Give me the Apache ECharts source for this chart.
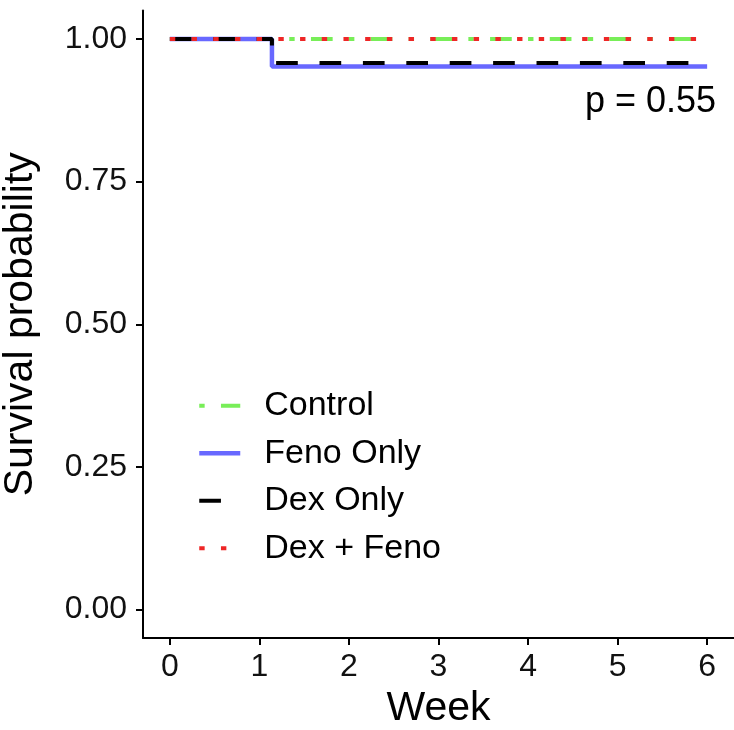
<!DOCTYPE html>
<html>
<head>
<meta charset="utf-8">
<script src="https://cdn.jsdelivr.net/npm/echarts@6/dist/echarts.min.js"></script>
<style>
  html, body { margin: 0; padding: 0; background: #fff; }
  #chart { width: 734px; height: 730px; }
</style>
</head>
<body>
<div id="chart"></div>
<script>
// Kaplan–Meier survival by treatment group (step curves)
const groupNames = ['Control', 'Feno Only', 'Dex Only', 'Dex + Feno'];
const weekTicks = [0, 1, 2, 3, 4, 5, 6];
const survivalTicks = [0, 0.25, 0.5, 0.75, 1];

// [week, survival probability] at start, each event and end of follow-up
const controlCurve = [[0, 1], [6, 1]];
const fenoCurve = [[0, 1], [1.14, 0.952], [6, 0.952]];
const dexCurve = [[0, 1], [1.14, 0.958], [6, 0.958]];
const dexFenoCurve = [[0, 1], [6, 1]];
const pValueText = 'p = 0.55';

const curves = [controlCurve, fenoCurve, dexCurve, dexFenoCurve];
const colors = ['#78EE58', '#6868FF', '#000000', '#EE2626'];
const dashes = [[5.4, 16.3, 21.7, 16.3], 'solid', [21.7, 21.7], [5.4, 16.3]];
const widths = [4, 4.5, 4, 4];

const FONT = '"Liberation Sans", Arial, Helvetica, sans-serif';

const chart = echarts.init(document.getElementById('chart'), null, { renderer: 'canvas' });

const series = groupNames.map((name, i) => ({
  name: name,
  type: 'line',
  step: 'end',
  data: curves[i],
  symbol: 'none',
  animation: false,
  color: colors[i],
  lineStyle: { color: colors[i], width: widths[i], type: dashes[i], cap: 'butt' }
}));

chart.setOption({
  backgroundColor: '#fff',
  animation: false,
  grid: { left: 143, right: 0, top: 10.5, bottom: 92, containLabel: false, outerBoundsMode: 'none' },
  xAxis: {
    type: 'value',
    min: -0.3,
    max: 6.3,
    name: 'Week',
    nameLocation: 'middle',
    nameGap: 48,
    nameTextStyle: { fontFamily: FONT, fontSize: 41, color: '#000' },
    axisLine: { show: true, onZero: false, lineStyle: { color: '#000', width: 2 } },
    axisTick: { show: true, customValues: weekTicks, length: 7, lineStyle: { color: '#000', width: 2 } },
    axisLabel: { customValues: weekTicks, margin: 13, fontFamily: FONT, fontSize: 32, color: '#111' },
    splitLine: { show: false }
  },
  yAxis: {
    type: 'value',
    min: -0.05,
    max: 1.05,
    name: 'Survival probability',
    nameLocation: 'middle',
    nameRotate: 90,
    nameGap: 102,
    nameTextStyle: { fontFamily: FONT, fontSize: 41, color: '#000' },
    axisLine: { show: true, onZero: false, lineStyle: { color: '#000', width: 2 } },
    axisTick: { show: true, customValues: survivalTicks, length: 7, lineStyle: { color: '#000', width: 2 } },
    axisLabel: {
      customValues: survivalTicks,
      margin: 16,
      fontFamily: FONT,
      fontSize: 32,
      color: '#111',
      formatter: v => v.toFixed(2)
    },
    splitLine: { show: false }
  },
  legend: {
    orient: 'vertical',
    left: 197,
    top: 382,
    itemWidth: 41,
    itemHeight: 10,
    itemGap: 0,
    padding: 0,
    selectedMode: false,
    data: groupNames.map((name, i) => ({
      name: name,
      itemStyle: { opacity: 0 },
      lineStyle: { color: colors[i], width: widths[i], type: dashes[i], cap: 'butt' }
    })),
    textStyle: {
      fontFamily: FONT,
      fontSize: 34,
      color: '#000',
      lineHeight: 47.5,
      padding: [0, 0, 0, 19]
    }
  },
  graphic: [{
    type: 'text',
    right: 18,
    top: 84,
    style: {
      text: pValueText,
      font: '36px ' + FONT,
      fill: '#000'
    }
  }],
  series: series
});
</script>
</body>
</html>
